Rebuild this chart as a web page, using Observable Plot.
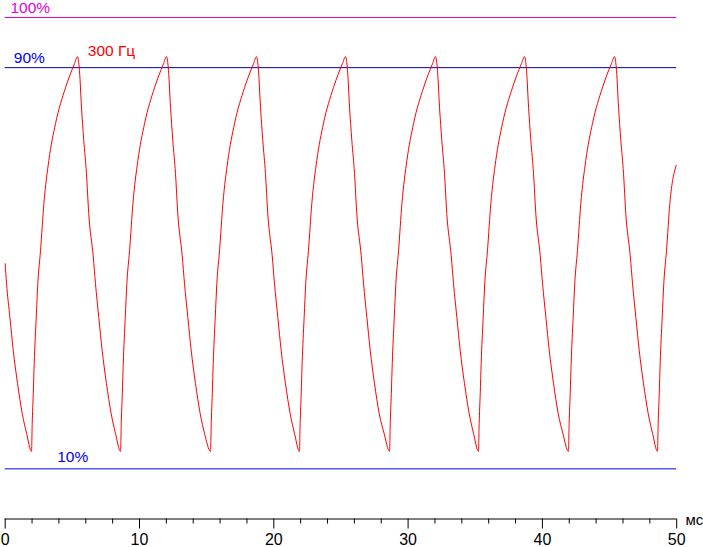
<!DOCTYPE html>
<html>
<head>
<meta charset="utf-8">
<script src="https://cdn.jsdelivr.net/npm/d3@7"></script>
<script src="https://cdn.jsdelivr.net/npm/@observablehq/plot@0.6"></script>
<style>
  html, body { margin: 0; padding: 0; background: #fff; }
  #chart svg { display: block; }
</style>
</head>
<body>
<div id="chart"></div>
<script>
// Time, ms
const timeMs = [
  0, 0.10, 0.35, 0.60, 0.92, 1.27, 1.59,
  1.96, 2.01, 2.09, 2.16, 2.31, 2.43, 2.63, 2.88, 3.25, 3.75, 4.49, 5.16, 5.38, 5.53, 5.68, 5.85, 6.05, 6.22, 6.55, 6.72, 6.97, 7.22, 7.54, 7.89, 8.21,
  8.59, 8.64, 8.72, 8.79, 8.94, 9.06, 9.26, 9.51, 9.88, 10.38, 11.12, 11.79, 12.01, 12.16, 12.31, 12.48, 12.68, 12.85, 13.18, 13.35, 13.60, 13.85, 14.17, 14.52, 14.84,
  15.29, 15.34, 15.42, 15.49, 15.64, 15.76, 15.96, 16.21, 16.58, 17.08, 17.82, 18.49, 18.71, 18.86, 19.01, 19.18, 19.38, 19.55, 19.88, 20.05, 20.30, 20.55, 20.87, 21.22, 21.54,
  21.91, 21.96, 22.04, 22.11, 22.26, 22.38, 22.58, 22.83, 23.20, 23.70, 24.44, 25.11, 25.34, 25.49, 25.64, 25.81, 26.01, 26.18, 26.51, 26.68, 26.93, 27.18, 27.50, 27.85, 28.21,
  28.62, 28.67, 28.75, 28.82, 28.97, 29.09, 29.29, 29.54, 29.91, 30.41, 31.15, 31.82, 32.04, 32.19, 32.34, 32.51, 32.71, 32.88, 33.21, 33.38, 33.63, 33.88, 34.20, 34.55, 34.87,
  35.24, 35.29, 35.37, 35.44, 35.59, 35.71, 35.91, 36.16, 36.53, 37.03, 37.77, 38.44, 38.67, 38.82, 38.97, 39.14, 39.34, 39.51, 39.84, 40.01, 40.26, 40.51, 40.83, 41.18, 41.52,
  41.94, 41.99, 42.07, 42.14, 42.29, 42.41, 42.61, 42.86, 43.23, 43.73, 44.47, 45.14, 45.37, 45.52, 45.67, 45.84, 46.04, 46.21, 46.54, 46.71, 46.96, 47.21, 47.53, 47.88, 48.20,
  48.57, 48.62, 48.70, 48.77, 48.92, 49.04, 49.24, 49.49, 49.96
];

// Brightness, % of the level range
const brightnessPct = [
  50.9, 47.0, 40.2, 33.6, 27.0, 21.0, 17.1,
  13.5, 19.0, 25.0, 31.0, 40.2, 47.0, 53.5, 62.9, 71.5, 78.9, 86.0, 90.8, 92.2, 89.4, 82.1, 75.5, 68.9, 60.9, 52.5, 47.0, 40.2, 33.6, 27.0, 21.0, 17.1,
  13.5, 19.0, 25.0, 31.0, 40.2, 47.0, 53.5, 62.9, 71.5, 78.9, 86.0, 90.8, 92.2, 89.4, 82.1, 75.5, 68.9, 60.9, 52.5, 47.0, 40.2, 33.6, 27.0, 21.0, 17.1,
  13.5, 19.0, 25.0, 31.0, 40.2, 47.0, 53.5, 62.9, 71.5, 78.9, 86.0, 90.8, 92.2, 89.4, 82.1, 75.5, 68.9, 60.9, 52.5, 47.0, 40.2, 33.6, 27.0, 21.0, 17.1,
  13.5, 19.0, 25.0, 31.0, 40.2, 47.0, 53.5, 62.9, 71.5, 78.9, 86.0, 90.8, 92.2, 89.4, 82.1, 75.5, 68.9, 60.9, 52.5, 47.0, 40.2, 33.6, 27.0, 21.0, 17.1,
  13.5, 19.0, 25.0, 31.0, 40.2, 47.0, 53.5, 62.9, 71.5, 78.9, 86.0, 90.8, 92.2, 89.4, 82.1, 75.5, 68.9, 60.9, 52.5, 47.0, 40.2, 33.6, 27.0, 21.0, 17.1,
  13.5, 19.0, 25.0, 31.0, 40.2, 47.0, 53.5, 62.9, 71.5, 78.9, 86.0, 90.8, 92.2, 89.4, 82.1, 75.5, 68.9, 60.9, 52.5, 47.0, 40.2, 33.6, 27.0, 21.0, 17.1,
  13.5, 19.0, 25.0, 31.0, 40.2, 47.0, 53.5, 62.9, 71.5, 78.9, 86.0, 90.8, 92.2, 89.4, 82.1, 75.5, 68.9, 60.9, 52.5, 47.0, 40.2, 33.6, 27.0, 21.0, 17.1,
  13.5, 19.0, 25.0, 31.0, 40.2, 47.0, 53.5, 62.9, 70.5
];

// Reference levels
const levelValues = [100, 90, 10];
const levelLabels = ["100%", "90%", "10%"];

// Axis ticks
const majorTicks = [0, 10, 20, 30, 40, 50];
const minorTicks = [2, 4, 6, 8, 12, 14, 16, 18, 22, 24, 26, 28, 32, 34, 36, 38, 42, 44, 46, 48];
const xUnit = "мс";
const seriesLabel = "300 Гц";

const data = timeMs.map((t, i) => ({t, v: brightnessPct[i]}));

const magenta = "#e000e0";
const darkBlue = "#0000b0";
const blue = "#0000ff";
const red = "#ff0000";

const chart = Plot.plot({
  width: 703,
  height: 547,
  marginTop: 17,
  marginBottom: 28.5,
  marginLeft: 4.7,
  marginRight: 26.8,
  style: {fontFamily: "'Liberation Sans', Arial, sans-serif", fontSize: "15px", background: "#fff", overflow: "visible", color: "#000"},
  x: {domain: [0, 50], label: null},
  y: {domain: [0, 100], axis: null, label: null},
  marks: [
    Plot.ruleY([levelValues[0]], {x1: 0, x2: 50, stroke: magenta, strokeWidth: 1}),
    Plot.ruleY([levelValues[1]], {x1: 0, x2: 50, stroke: darkBlue, strokeWidth: 1}),
    Plot.ruleY([levelValues[2]], {x1: 0, x2: 50, stroke: blue, strokeWidth: 1}),
    Plot.text([levelLabels[0]], {x: 0, y: levelValues[0], text: d => d, fill: magenta, textAnchor: "start", lineAnchor: "bottom", dx: 5.3, dy: -5, fontSize: 15.5}),
    Plot.text([levelLabels[1]], {x: 0, y: levelValues[1], text: d => d, fill: blue, textAnchor: "start", lineAnchor: "bottom", dx: 8.6, dy: -4.5, fontSize: 15.5}),
    Plot.text([levelLabels[2]], {x: 0, y: levelValues[2], text: d => d, fill: blue, textAnchor: "start", lineAnchor: "bottom", dx: 52, dy: -7, fontSize: 15.5}),
    Plot.text([seriesLabel], {x: 0, y: levelValues[1], text: d => d, fill: red, textAnchor: "start", lineAnchor: "bottom", dx: 82.6, dy: -12, fontSize: 15.5}),
    Plot.line(data, {x: "t", y: "v", stroke: red, strokeWidth: 1, curve: "monotone-x"}),
    Plot.ruleY([0], {x1: 0, x2: 50, stroke: "#000", strokeWidth: 1}),
    Plot.axisX(majorTicks, {tickSize: 10, tickPadding: 5, stroke: "#000", fill: "#000", fontSize: 16, strokeOpacity: 1, label: null}),
    Plot.axisX(minorTicks, {tickSize: 5, tickFormat: () => "", stroke: "#000", strokeOpacity: 1, label: null}),
    Plot.text([xUnit], {x: 50, y: 0, text: d => d, fill: "#000", textAnchor: "start", lineAnchor: "bottom", dx: 8.8, dy: 5.5, fontSize: 15})
  ]
});

document.getElementById("chart").appendChild(chart);
</script>
</body>
</html>
